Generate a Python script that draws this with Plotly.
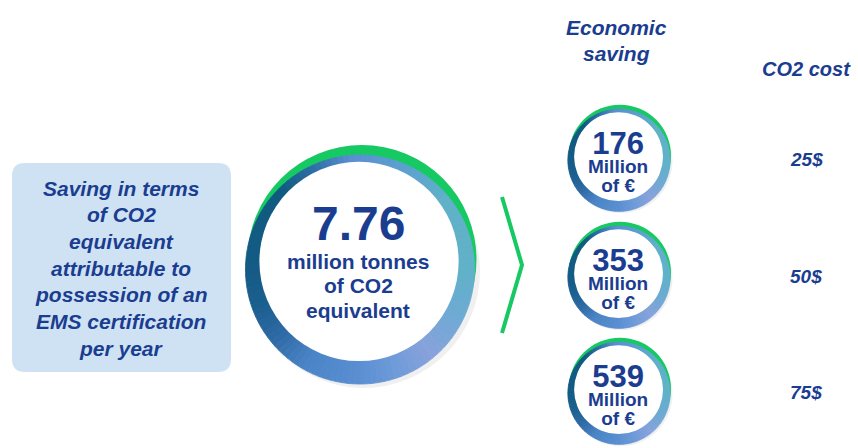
import numpy as np
import plotly.graph_objects as go

# values shown in the infographic
co2_saved_mt = 7.76
co2_unit_lines = ["million tonnes", "of CO2", "equivalent"]
econ_saving_meur = [176, 353, 539]
econ_unit_lines = ["Million", "of €"]
co2_cost_usd = [25, 50, 75]
box_lines = ["Saving in terms", "of CO2", "equivalent", "attributable to",
             "possession of an", "EMS certification", "per year"]
header_econ = ["Economic", "saving"]
header_cost = "CO2 cost"

W, H = 858, 448
TEXT = "#1b3d90"
GREEN = "#17c963"
FONT = "Arial, Liberation Sans, sans-serif"

# colour of the ring by angle (degrees, counter-clockwise from the right)
ring_stops = [(-180, "#145b85"), (-160, "#1b5f8f"), (-140, "#2f6aa6"), (-120, "#4a84c6"),
              (-90, "#5a8fd2"), (-70, "#6f9bd9"), (-50, "#88a2dc"), (-25, "#6eaad4"),
              (0, "#61b1c9"), (40, "#61b1c9"), (70, "#5c9fd0"), (95, "#5a8fd2"),
              (115, "#2f6ea6"), (135, "#105a80"), (180, "#145b85")]


def hex2rgb(h):
    return np.array([int(h[i:i + 2], 16) for i in (1, 3, 5)], dtype=float)


def ring_color(a):
    angs = [s[0] for s in ring_stops]
    for i in range(len(ring_stops) - 1):
        if angs[i] <= a <= angs[i + 1]:
            t = (a - angs[i]) / (angs[i + 1] - angs[i])
            c = hex2rgb(ring_stops[i][1]) * (1 - t) + hex2rgb(ring_stops[i + 1][1]) * t
            return "rgb({:.0f},{:.0f},{:.0f})".format(*c)
    return ring_stops[0][1]


def circle(cx, cy, r, color):
    return dict(type="circle", xref="x", yref="y", x0=cx - r, x1=cx + r, y0=cy - r, y1=cy + r,
                fillcolor=color, line=dict(width=0), layer="above")


def ring_shapes(cx, cy, R, n=120):
    shp = [circle(cx + 0.03 * R, cy + 0.06 * R, 1.0 * R, "rgba(0,0,0,0.06)"),
           circle(cx + 0.017 * R, cy - 0.043 * R, 0.983 * R, GREEN)]
    ox, oy, orad = cx, cy + 0.043 * R, 0.983 * R
    for i in range(n):
        a0 = -180 + 360 * i / n
        a1 = -180 + 360 * (i + 1) / n
        pts = [(ox, oy)]
        for a in np.linspace(a0, a1, 3):
            t = np.radians(a)
            pts.append((ox + orad * np.cos(t), oy - orad * np.sin(t)))
        path = "M " + " L ".join("{:.2f},{:.2f}".format(x, y) for x, y in pts) + " Z"
        col = ring_color((a0 + a1) / 2)
        shp.append(dict(type="path", path=path, xref="x", yref="y", fillcolor=col,
                        line=dict(color=col, width=0.8), layer="above"))
    shp.append(circle(cx - 0.0085 * R, cy - 0.026 * R, 0.855 * R, "white"))
    return shp


shapes = []
# left rounded box
bx0, bx1, by0, by1, rr = 12, 231, 163, 372, 13
shapes.append(dict(type="path", xref="x", yref="y", layer="above",
                   path=(f"M {bx0 + rr},{by0} L {bx1 - rr},{by0} Q {bx1},{by0} {bx1},{by0 + rr} "
                         f"L {bx1},{by1 - rr} Q {bx1},{by1} {bx1 - rr},{by1} L {bx0 + rr},{by1} "
                         f"Q {bx0},{by1} {bx0},{by1 - rr} L {bx0},{by0 + rr} Q {bx0},{by0} {bx0 + rr},{by0} Z"),
                   fillcolor="#cfe2f3", line=dict(width=0)))

big_c = (360, 264.5)
shapes += ring_shapes(big_c[0], big_c[1], 116.5)

small_cx = 619
small_cy = [158, 275, 391]
for cy in small_cy:
    shapes += ring_shapes(small_cx, cy, 52)

# chevron
shapes.append(dict(type="path", xref="x", yref="y", layer="above",
                   path="M 502,197 L 522,265 L 502,333",
                   line=dict(color=GREEN, width=4)))

ann = []


def txt(x, y, s, size, bold=True, italic=False):
    if italic:
        s = "<i>" + s + "</i>"
    if bold:
        s = "<b>" + s + "</b>"
    ann.append(dict(x=x, y=y, xref="x", yref="y", text=s, showarrow=False,
                    xanchor="center", yanchor="middle",
                    font=dict(family=FONT, size=size, color=TEXT)))


for i, line in enumerate(box_lines):
    txt(121, 188 + 26.7 * i, line, 21, italic=True)

txt(big_c[0] - 2, 223, f"{co2_saved_mt:.2f}", 48)
for i, line in enumerate(co2_unit_lines):
    txt(big_c[0] - 2, 261 + 24.5 * i, line, 21)

txt(616, 27, header_econ[0], 21, italic=True)
txt(616, 53, header_econ[1], 21, italic=True)
txt(806, 69, header_cost, 20, italic=True)

for cy, v, c in zip(small_cy, econ_saving_meur, co2_cost_usd):
    label = (f"<span style='font-size:31px'>{v}</span><br>"
             f"<span style='font-size:19px'>{econ_unit_lines[0]}</span><br>"
             f"<span style='font-size:19px'>{econ_unit_lines[1]}</span>")
    txt(618, cy + 3, label, 14.5)
    txt(806, cy + 1, f"{c}$", 19, italic=True)

fig = go.Figure()
# invisible anchor trace at the circle centres so the axes exist
fig.add_trace(go.Scatter(x=[big_c[0]] + [small_cx] * 3, y=[big_c[1]] + small_cy,
                         mode="markers", marker=dict(opacity=0), hoverinfo="skip",
                         showlegend=False))
fig.update_layout(
    width=W, height=H, margin=dict(l=0, r=0, t=0, b=0),
    paper_bgcolor="white", plot_bgcolor="white",
    xaxis=dict(range=[0, W], visible=False, fixedrange=True),
    yaxis=dict(range=[H, 0], visible=False, fixedrange=True),
    shapes=shapes, annotations=ann, showlegend=False,
)
fig.write_html("out.html", config={"displayModeBar": False},
               post_script="document.body.style.margin='0';document.body.style.overflow='hidden';")
